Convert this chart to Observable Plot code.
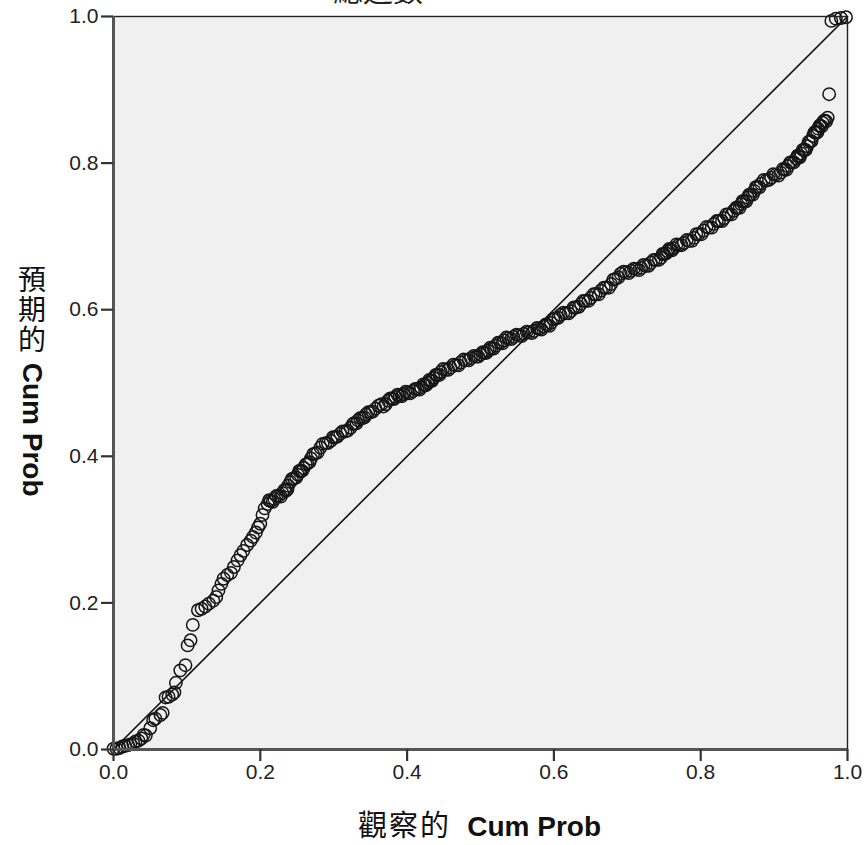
<!DOCTYPE html>
<html>
<head>
<meta charset="utf-8">
<script src="https://cdn.jsdelivr.net/npm/d3@7"></script>
<script src="https://cdn.jsdelivr.net/npm/@observablehq/plot@0.6"></script>
<style>
  html, body { margin: 0; padding: 0; background: #fff; }
  #chart { width: 866px; height: 845px; overflow: hidden; }
</style>
</head>
<body>
<div id="chart"></div>
<script>
const titleText = "總迴數";
const xLabelCJK = "觀察的";
const yLabelCJK = "預期的";
const labelLatin = "Cum Prob";
const tickValues = [0, 0.2, 0.4, 0.6, 0.8, 1.0];
const diagonal = [0, 1];

const observedCumProb = [0.000,0.004,0.008,0.012,0.016,0.020,0.023,0.027,0.030,0.034,0.038,0.041,0.044,0.050,0.054,0.057,0.064,0.067,0.071,0.075,0.080,0.083,0.085,0.091,0.098,0.101,0.105,0.108,0.115,0.120,0.125,0.130,0.136,0.140,0.143,0.147,0.150,0.155,0.160,0.164,0.169,0.173,0.177,0.182,0.187,0.190,0.194,0.197,0.200,0.206,0.210,0.214,0.219,0.225,0.230,0.235,0.238,0.241,0.246,0.251,0.255,0.259,0.264,0.269,0.275,0.282,0.289,0.296,0.302,0.309,0.316,0.323,0.328,0.333,0.339,0.344,0.350,0.357,0.365,0.368,0.374,0.379,0.384,0.390,0.395,0.401,0.408,0.414,0.419,0.424,0.428,0.432,0.436,0.441,0.446,0.452,0.459,0.466,0.473,0.480,0.487,0.494,0.500,0.505,0.510,0.515,0.521,0.527,0.532,0.538,0.545,0.552,0.559,0.566,0.573,0.580,0.586,0.591,0.596,0.602,0.609,0.616,0.623,0.630,0.637,0.643,0.650,0.657,0.664,0.671,0.678,0.684,0.691,0.698,0.705,0.712,0.719,0.725,0.732,0.739,0.746,0.750,0.755,0.759,0.763,0.770,0.777,0.784,0.791,0.797,0.804,0.811,0.818,0.825,0.832,0.838,0.845,0.850,0.855,0.859,0.864,0.868,0.873,0.877,0.882,0.889,0.896,0.902,0.909,0.914,0.919,0.924,0.930,0.933,0.937,0.941,0.945,0.949,0.953,0.957,0.960,0.963,0.966,0.969,0.973,0.975,0.978,0.984,0.991,0.998,
  0.203,0.212,0.217,0.222,0.228,0.233,0.237,0.243,0.249,0.253,0.257,0.262,0.267,0.272,0.278,0.285,0.292,0.299,0.305,0.312,0.319,0.326,0.331,0.336,0.342,0.347,0.353,0.361,0.371,0.377,0.382,0.387,0.393,0.398,0.404,0.411,0.417,0.422,0.426,0.430,0.434,0.439,0.444,0.449,0.456,0.463,0.470,0.477,0.484,0.491,0.497,0.503,0.508,0.513,0.518,0.524,0.530,0.535,0.542,0.549,0.556,0.563,0.570,0.577,0.583,0.589,0.594,0.599,0.606,0.613,0.620,0.627,0.634,0.640,0.647,0.654,0.661,0.668,0.675,0.681,0.688,0.695,0.702,0.709,0.716,0.722,0.729,0.736,0.743,0.748,0.753,0.757,0.761,0.767,0.774,0.781,0.788,0.794,0.801,0.808,0.815,0.822,0.829,0.835,0.842,0.848,0.853,0.857,0.862,0.866,0.871,0.875,0.880,0.886,0.893,0.899,0.906,0.912,0.917,0.922,0.927,0.932,0.935,0.939,0.943,0.947,0.951,0.955,0.959,0.962,0.965,0.968,0.971];
const expectedCumProb = [0.001,0.001,0.002,0.004,0.005,0.006,0.007,0.008,0.011,0.012,0.015,0.020,0.019,0.029,0.040,0.042,0.047,0.050,0.071,0.072,0.075,0.078,0.091,0.108,0.115,0.142,0.149,0.170,0.190,0.192,0.195,0.199,0.203,0.208,0.217,0.226,0.233,0.238,0.241,0.249,0.258,0.265,0.271,0.279,0.285,0.290,0.296,0.303,0.308,0.329,0.335,0.339,0.342,0.346,0.350,0.353,0.360,0.365,0.370,0.375,0.380,0.384,0.390,0.397,0.404,0.412,0.418,0.421,0.426,0.431,0.434,0.439,0.445,0.449,0.452,0.457,0.460,0.465,0.471,0.468,0.476,0.478,0.481,0.483,0.485,0.487,0.489,0.492,0.494,0.497,0.500,0.503,0.507,0.511,0.515,0.518,0.521,0.524,0.528,0.531,0.534,0.536,0.539,0.541,0.544,0.547,0.551,0.555,0.558,0.561,0.563,0.565,0.567,0.569,0.571,0.574,0.577,0.579,0.582,0.588,0.593,0.595,0.598,0.603,0.608,0.612,0.616,0.621,0.626,0.630,0.635,0.642,0.649,0.651,0.653,0.655,0.657,0.660,0.664,0.668,0.671,0.676,0.680,0.682,0.684,0.688,0.691,0.694,0.698,0.703,0.708,0.712,0.717,0.721,0.725,0.730,0.735,0.739,0.744,0.748,0.753,0.757,0.762,0.767,0.772,0.776,0.780,0.784,0.787,0.791,0.796,0.801,0.806,0.809,0.813,0.818,0.823,0.830,0.837,0.842,0.847,0.851,0.855,0.858,0.862,0.894,0.994,0.997,0.998,0.999,
  0.320,0.340,0.338,0.346,0.345,0.354,0.355,0.369,0.371,0.380,0.380,0.389,0.392,0.403,0.405,0.417,0.418,0.426,0.427,0.434,0.435,0.444,0.445,0.452,0.453,0.460,0.461,0.469,0.471,0.479,0.478,0.484,0.482,0.488,0.486,0.492,0.491,0.498,0.497,0.504,0.503,0.511,0.511,0.519,0.518,0.525,0.524,0.532,0.531,0.537,0.536,0.542,0.541,0.548,0.547,0.555,0.554,0.562,0.560,0.566,0.564,0.570,0.568,0.575,0.573,0.580,0.578,0.587,0.589,0.596,0.595,0.603,0.604,0.612,0.612,0.621,0.621,0.630,0.630,0.641,0.644,0.652,0.650,0.656,0.654,0.661,0.660,0.668,0.668,0.676,0.677,0.683,0.681,0.689,0.688,0.695,0.694,0.703,0.703,0.713,0.712,0.721,0.721,0.730,0.730,0.739,0.739,0.748,0.748,0.757,0.757,0.767,0.767,0.777,0.777,0.785,0.783,0.792,0.791,0.801,0.801,0.810,0.808,0.818,0.818,0.829,0.830,0.842,0.842,0.851,0.850,0.858,0.857];

const points = observedCumProb.map((x, i) => ({x, y: expectedCumProb[i]}));

const chart = Plot.plot({
  width: 866,
  height: 845,
  marginLeft: 113,
  marginRight: 19,
  marginTop: 16,
  marginBottom: 96,
  style: {fontFamily: "'Liberation Sans', Arial, sans-serif", fontSize: "21px", color: "#222", background: "#fff"},
  x: {domain: [0, 1], ticks: tickValues, tickFormat: d3.format(".1f"), label: null},
  y: {domain: [0, 1], ticks: tickValues, tickFormat: d3.format(".1f"), label: null},
  marks: [
    Plot.frame({fill: "#f0f0f0", stroke: null}),
    Plot.line(diagonal.map(d => ({d})), {x: "d", y: "d", stroke: "#111", strokeWidth: 1.6}),
    Plot.dot(points, {x: "x", y: "y", r: 6.2, stroke: "#151515", strokeWidth: 1.5, fill: "none"}),
    Plot.frame({stroke: "#222", strokeWidth: 1.4}),
    Plot.ruleX([0], {stroke: "#555", strokeWidth: 3}),
    Plot.ruleY([0], {stroke: "#555", strokeWidth: 3}),
    Plot.axisX({ticks: tickValues, tickFormat: d3.format(".1f"), tickSize: 12, tickPadding: 3, stroke: "#333", strokeWidth: 2.2, label: null}),
    Plot.axisY({ticks: tickValues, tickFormat: d3.format(".1f"), tickSize: 12, tickPadding: 3, stroke: "#333", strokeWidth: 2.2, label: null})
  ]
});

document.getElementById("chart").appendChild(chart);

const svg = d3.select(chart);
// Title (cropped at the top edge, as in the reference)
svg.append("text")
  .attr("x", 378).attr("y", 1)
  .attr("text-anchor", "middle")
  .style("font-family", "'Noto Sans CJK TC', sans-serif")
  .style("font-size", "30px")
  .attr("fill", "#222")
  .text(titleText);

// X axis label: CJK part starts at x=358, Latin part ends at x=601
svg.append("text")
  .attr("x", 358).attr("y", 836)
  .attr("text-anchor", "start")
  .style("font-family", "'Noto Sans CJK TC', sans-serif")
  .style("font-size", "29px")
  .style("letter-spacing", "2px")
  .attr("fill", "#111")
  .text(xLabelCJK);
svg.append("text")
  .attr("x", 601).attr("y", 836)
  .attr("text-anchor", "end")
  .style("font-family", "'Liberation Sans', Arial, sans-serif")
  .style("font-size", "28px")
  .style("font-weight", "bold")
  .attr("fill", "#111")
  .text(labelLatin);

// Y axis label in vertical writing (CJK upright, Latin rotated)
const yl = svg.append("text")
  .attr("x", 32).attr("y", 265)
  .attr("text-anchor", "start")
  .style("writing-mode", "vertical-rl")
  .attr("fill", "#111");
yl.append("tspan")
  .style("font-family", "'Noto Sans CJK TC', sans-serif")
  .style("font-size", "28px")
  .style("letter-spacing", "2px")
  .text(yLabelCJK);
yl.append("tspan")
  .style("font-family", "'Liberation Sans', Arial, sans-serif")
  .style("font-size", "28px")
  .style("font-weight", "bold")
  .text(" " + labelLatin);
</script>
</body>
</html>
